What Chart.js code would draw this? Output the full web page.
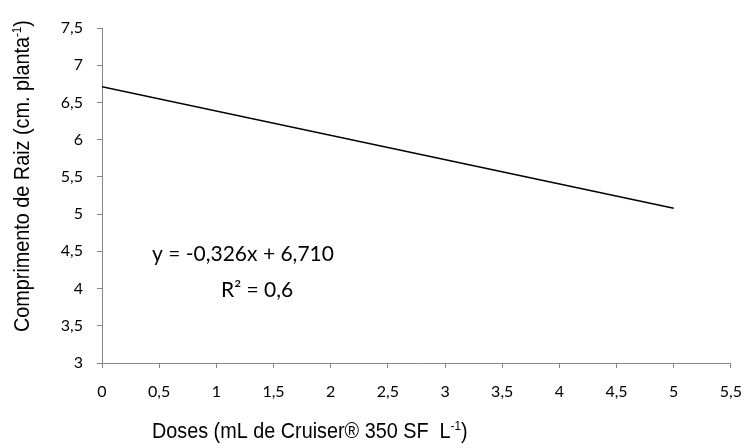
<!DOCTYPE html>
<html>
<head>
<meta charset="utf-8">
<script src="https://cdn.jsdelivr.net/npm/chart.js@4"></script>
<style>
html,body{margin:0;padding:0;background:#fff;}
#wrap{width:756px;height:448px;position:relative;}
</style>
</head>
<body>
<div id="wrap"><canvas id="c" width="756" height="448"></canvas></div>
<script>
// Data
const doses = [0, 5];
const rootLength = [6.71, 5.08];
const xTicks = [0, 0.5, 1, 1.5, 2, 2.5, 3, 3.5, 4, 4.5, 5, 5.5];
const yTicks = [3, 3.5, 4, 4.5, 5, 5.5, 6, 6.5, 7, 7.5];
const equationText = "y = -0,326x + 6,710";
const r2Text = "R² = 0,6";
const xTitleMain = "Doses (mL de Cruiser® 350 SF  L";
const xTitleSup = "-1";
const xTitleEnd = ")";
const yTitleMain = "Comprimento de Raiz (cm. planta";
const yTitleSup = "-1";
const yTitleEnd = ")";

const fmt = v => String(v).replace('.', ',');

function drawWithSup(ctx, x, y, main, sup, end, size, family) {
  ctx.font = size + "px " + family;
  ctx.fillText(main, x, y);
  let w = ctx.measureText(main).width;
  ctx.font = Math.round(size * 0.6) + "px " + family;
  ctx.fillText(sup, x + w, y - size * 0.38);
  w += ctx.measureText(sup).width;
  ctx.font = size + "px " + family;
  ctx.fillText(end, x + w, y);
}

const textPlugin = {
  id: 'texts',
  afterDraw(chart) {
    const ctx = chart.ctx;
    ctx.save();
    ctx.fillStyle = '#000';
    ctx.textBaseline = 'alphabetic';
    ctx.textAlign = 'left';
    // equation
    ctx.font = "21px Lato";
    ctx.fillText(equationText, 152, 261);
    ctx.fillText(r2Text, 221, 297);
    // x title (slightly condensed sans)
    ctx.save();
    ctx.translate(152, 438);
    ctx.scale(0.9, 1);
    drawWithSup(ctx, 0, 0, xTitleMain, xTitleSup, xTitleEnd, 22, "'Liberation Sans'");
    ctx.restore();
    // y title
    ctx.save();
    ctx.translate(29, 332);
    ctx.rotate(-Math.PI / 2);
    ctx.scale(0.9, 1);
    drawWithSup(ctx, 0, 0, yTitleMain, yTitleSup, yTitleEnd, 22, "'Liberation Sans'");
    ctx.restore();
    ctx.restore();
  }
};

new Chart(document.getElementById('c'), {
  type: 'scatter',
  data: {
    datasets: [{
      data: doses.map((d, i) => ({x: d, y: rootLength[i]})),
      showLine: true,
      borderColor: '#000',
      borderWidth: 1.5,
      pointRadius: 0,
      fill: false
    }]
  },
  options: {
    responsive: false,
    animation: false,
    devicePixelRatio: 1,
    layout: {padding: {left: 0, right: 13, top: 28, bottom: 0}},
    plugins: {legend: {display: false}, tooltip: {enabled: false}, title: {display: false}},
    scales: {
      x: {
        type: 'linear',
        min: 0, max: 5.5,
        afterBuildTicks: s => { s.ticks = xTicks.map(v => ({value: v})); },
        afterFit: s => { s.height = 85; },
        grid: {drawOnChartArea: false, drawTicks: true, tickLength: 5, color: '#868686', lineWidth: 1},
        border: {color: '#868686', width: 1},
        ticks: {callback: v => fmt(v), font: {family: 'Lato', size: 16}, color: '#000', padding: 14, maxRotation: 0, autoSkip: false}
      },
      y: {
        type: 'linear',
        min: 3, max: 7.5,
        afterBuildTicks: s => { s.ticks = yTicks.map(v => ({value: v})); },
        afterFit: s => { s.width = 102; },
        grid: {drawOnChartArea: false, drawTicks: true, tickLength: 5, color: '#868686', lineWidth: 1},
        border: {color: '#868686', width: 1},
        ticks: {callback: v => fmt(v), font: {family: 'Lato', size: 16}, color: '#000', padding: 14, autoSkip: false}
      }
    }
  },
  plugins: [textPlugin]
});
</script>
</body>
</html>
